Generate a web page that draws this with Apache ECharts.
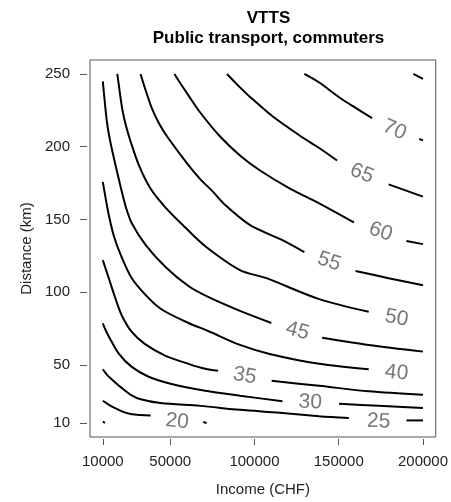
<!DOCTYPE html>
<html><head><meta charset="utf-8">
<script src="https://cdn.jsdelivr.net/npm/echarts@6/dist/echarts.min.js"></script>
<style>html,body{margin:0;padding:0;background:#fff}#c{width:451px;height:502px}</style>
</head><body><div id="c"></div>
<script>
// Axis ticks
const xTicks = [10000, 50000, 100000, 150000, 200000];
const yTicks = [10, 50, 100, 150, 200, 250];

// Contour lines (income CHF, distance km), each level a list of segments
const contour20 = [
  [[10000,25.3],[13700,22.5],[17600,20.1],[22500,17.5],[27400,16.0],[32500,15.5],[38400,15.2]],
  [[69600,10.7],[71600,10.0]],
  [[10000,10.9],[11300,10.1]]
];
const contour25 = [
  [[10000,47.0],[13100,42.4],[16800,38.5],[20800,34.5],[26600,29.4],[32500,26.3],[44300,23.7],[67800,21.8],[91400,19.1],[114900,17.1],[138400,14.7],[156000,13.4]],
  [[190200,11.8],[200000,11.8]]
];
const contour30 = [
  [[10000,78.6],[11600,74.0],[13700,69.2],[19600,57.5],[27200,48.6],[37200,41.8],[50200,37.0],[70800,32.2],[91400,28.8],[116600,25.0]],
  [[150200,23.2],[173700,21.9],[200000,20.3]]
];
const contour35 = [
  [[10000,122.0],[13700,109.0],[17800,94.6],[21400,83.6],[27200,72.6],[34900,64.4],[47200,56.2],[60800,50.7],[70800,47.3],[78400,45.9]],
  [[110200,39.0],[138400,35.6],[167800,31.8],[200000,29.4]]
];
const contour40 = [
  [[10000,175.8],[11900,163.1],[13700,152.2],[16600,138.4],[20200,126.8],[27200,109.6],[37200,95.9],[45500,87.7],[60800,78.8],[72500,73.3],[91400,63.7],[109000,57.5],[138400,50.7],[167800,46.9]]
];
const contour45 = [
  [[10000,244.9],[11100,231.7],[12500,216.6],[14300,204.3],[16600,192.0],[20500,172.8],[23700,158.4],[27200,147.4],[35500,132.3],[47200,117.3],[60800,104.2],[72500,96.7],[91400,87.1],[110000,78.8]],
  [[140200,68.7],[167800,63.7],[200000,59.1]]
];
const contour50 = [
  [[18600,250],[19300,244.0],[21500,226.2],[23700,214.5],[26500,203.6],[31400,187.3],[38200,171.4],[47100,158.3],[58800,144.6],[70800,131.6],[91400,115.2],[107100,109.6],[138400,95.2],[167800,86.5]]
];
const contour55 = [
  [[32400,250],[35500,238.5],[39200,226.2],[43700,215.2],[49000,205.6],[60800,187.3],[67800,177.7],[74900,169.6],[82500,160.0],[97200,146.2],[116600,135.7],[129600,127.5]],
  [[160000,114.6],[179600,109.6],[200000,104.8]]
];
const contour60 = [
  [[52500,250],[56100,243.4],[60800,235.3],[67800,223.5],[79600,207.0],[91400,194.0],[103100,183.8],[120800,171.4],[138400,161.1],[159000,148.0]],
  [[190200,135.2],[200000,133.0]]
];
const contour65 = [
  [[83700,250],[91400,240.8],[97200,234.4],[110900,220.7],[126800,207.7],[138400,199.1],[149000,190.5]],
  [[179600,174.1],[200000,165.7]]
];
const contour70 = [
  [[129600,250],[138400,244.1],[150200,234.0],[159600,227.0],[169800,219.7]],
  [[197800,205.3],[200000,204.3]]
];
const contour75 = [
  [[194300,250],[200000,246.6]]
];

// Contour labels
const labelText = ['20','25','30','35','40','45','50','55','60','65','70'];
const labelAt = [[54100,11.1],[173700,11.1],[133100,24.3],[94300,42.4],[184300,44.5],[125500,73.3],[184300,82.2],[144300,121.0],[174900,141.5],[163700,181.6],[183100,211.5]];
const labelTilt = [-6,-2,-3,-10,-6,-15,-11,-19,-19,-22,-24];

const allContours = [contour20, contour25, contour30, contour35, contour40, contour45, contour50, contour55, contour60, contour65, contour70, contour75];

const FONT = 'Liberation Sans, Arial, sans-serif';
const series = [];
allContours.forEach(segs => segs.forEach(seg => series.push({
  type: 'line', data: seg, symbol: 'none', smooth: 0.3, silent: true,
  lineStyle: { color: '#000', width: 2 }
})));
series.push({
  type: 'scatter', symbolSize: 1, silent: true,
  itemStyle: { color: 'transparent' },
  data: labelText.map((t, i) => ({ value: labelAt[i], label: { formatter: t, rotate: labelTilt[i] } })),
  label: { show: true, position: 'inside', color: '#555', fontSize: 21, fontFamily: FONT }
});

const chart = echarts.init(document.getElementById('c'));
chart.setOption({
  animation: false,
  title: {
    text: 'VTTS\nPublic transport, commuters',
    left: 263.5, top: 3, textAlign: 'center',
    textStyle: { fontSize: 17, fontWeight: 'bold', lineHeight: 20, color: '#000', fontFamily: FONT }
  },
  grid: { left: 90, right: 14, top: 60, bottom: 64, show: true, borderColor: '#555', borderWidth: 1, backgroundColor: '#fff' },
  xAxis: {
    type: 'value', min: 2400, max: 207600, offset: 2,
    axisLine: { show: false }, splitLine: { show: false },
    axisTick: { show: true, length: 6, customValues: xTicks, lineStyle: { color: '#555' } },
    axisLabel: { customValues: xTicks, formatter: v => String(v), fontSize: 15, color: '#222', margin: 15, fontFamily: FONT },
    name: 'Income (CHF)', nameLocation: 'middle', nameGap: 43,
    nameTextStyle: { fontSize: 15, color: '#222', fontFamily: FONT }
  },
  yAxis: {
    type: 'value', min: 0.4, max: 259.6, offset: 3,
    axisLine: { show: false }, splitLine: { show: false },
    axisTick: { show: true, length: 7, customValues: yTicks, lineStyle: { color: '#555' } },
    axisLabel: { customValues: yTicks, formatter: v => String(v), fontSize: 15, color: '#222', margin: 17, fontFamily: FONT },
    name: 'Distance (km)', nameLocation: 'middle', nameGap: 48, nameRotate: 90,
    nameTextStyle: { fontSize: 15, color: '#222', fontFamily: FONT }
  },
  series: series
});
</script></body></html>
